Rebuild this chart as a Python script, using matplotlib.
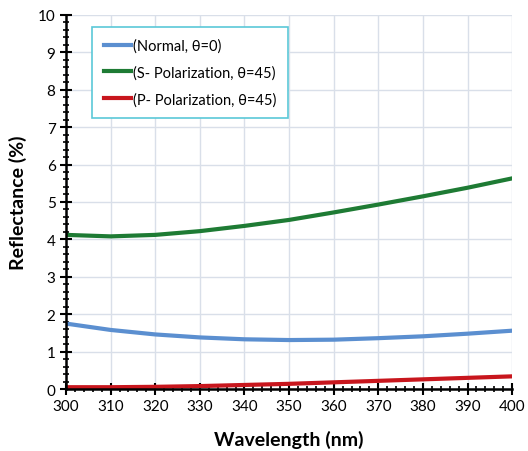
import numpy as np
import matplotlib.pyplot as plt
from matplotlib.ticker import MultipleLocator

plt.rcParams['font.family'] = ['Lato', 'DejaVu Sans']

wavelength = [300, 310, 320, 330, 340, 350, 360, 370, 380, 390, 400]
normal = [1.75, 1.58, 1.46, 1.38, 1.33, 1.31, 1.32, 1.36, 1.41, 1.48, 1.56]
s_pol = [4.12, 4.08, 4.12, 4.22, 4.36, 4.52, 4.72, 4.93, 5.15, 5.38, 5.63]
p_pol = [0.05, 0.05, 0.06, 0.08, 0.11, 0.14, 0.18, 0.22, 0.26, 0.30, 0.34]

fig = plt.figure(figsize=(5.28, 4.52), dpi=100)
ax = fig.add_axes([0.125, 0.137, 0.845, 0.828])

ax.plot(wavelength, normal, color='#5b8fd0', lw=3, label='(Normal, θ=0)')
ax.plot(wavelength, s_pol, color='#1e7b34', lw=3, label='(S- Polarization, θ=45)')
ax.plot(wavelength, p_pol, color='#c8161d', lw=3, label='(P- Polarization, θ=45)')

ax.set_xlim(300, 400)
ax.set_ylim(0, 10)
ax.xaxis.set_major_locator(MultipleLocator(10))
ax.xaxis.set_minor_locator(MultipleLocator(2))
ax.yaxis.set_major_locator(MultipleLocator(1))
ax.yaxis.set_minor_locator(MultipleLocator(0.2))
ax.tick_params(which='major', direction='inout', length=8, width=1.5, labelsize=11)
ax.tick_params(which='minor', direction='inout', length=5, width=1.2)
ax.grid(True, which='major', color='#d9dfe9', lw=1)
ax.set_axisbelow(True)

for side in ['top', 'right']:
    ax.spines[side].set_visible(False)
for side in ['left', 'bottom']:
    ax.spines[side].set_linewidth(1.8)

ax.set_xlabel('Wavelength (nm)', fontsize=14, fontweight='bold', labelpad=12)
ax.set_ylabel('Reflectance (%)', fontsize=14, fontweight='bold', labelpad=8)

leg = ax.legend(loc='upper left', bbox_to_anchor=(0.058, 0.968), fontsize=10.5,
                fancybox=False, framealpha=1, edgecolor='#5bc8d8',
                handlelength=1.9, handletextpad=0.1, labelspacing=0.85,
                borderpad=0.8, borderaxespad=0)
leg.get_frame().set_linewidth(1.2)

fig.savefig('out.png', dpi=100)
